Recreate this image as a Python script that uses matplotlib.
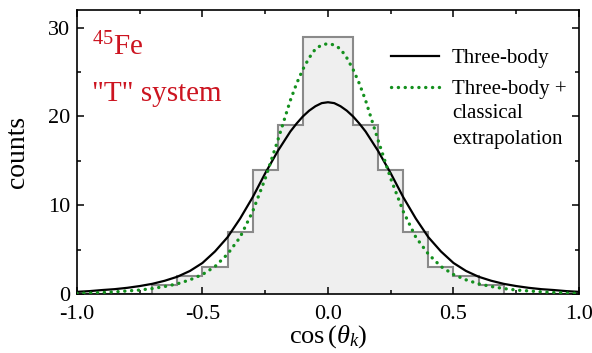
import numpy as np
import matplotlib
matplotlib.use("Agg")
import matplotlib.pyplot as plt
from matplotlib.ticker import MultipleLocator, FormatStrFormatter

plt.rcParams['font.family'] = ['Liberation Serif', 'DejaVu Serif']
plt.rcParams['mathtext.fontset'] = 'custom'
plt.rcParams['mathtext.rm'] = 'Liberation Serif'
plt.rcParams['mathtext.it'] = 'Liberation Serif:italic'
plt.rcParams['axes.unicode_minus'] = False

# histogram (bin width 0.1 from -1 to 1)
bin_edges = np.round(np.arange(-1.0, 1.0001, 0.1), 2)
counts = [0, 0, 0, 1, 2, 3, 7, 14, 19, 29, 29, 19, 14, 7, 3, 2, 1, 0, 0, 0]

# curves at |cos| values (symmetric about 0)
half_x = [0.0, 0.025, 0.05, 0.075, 0.10, 0.125, 0.15, 0.20, 0.25, 0.30, 0.35,
          0.40, 0.45, 0.50, 0.55, 0.60, 0.65, 0.70, 0.75, 0.80, 0.85, 0.90,
          0.95, 1.0]
three_body = [21.6, 21.5, 21.15, 20.65, 20.0, 19.2, 18.3, 16.1, 13.6, 10.9,
              8.5, 6.4, 4.8, 3.5, 2.6, 1.95, 1.5, 1.15, 0.9, 0.7, 0.55, 0.45,
              0.33, 0.25]
three_body_cl = [28.2, 28.05, 27.6, 26.6, 25.3, 23.7, 21.8, 17.3, 13.0, 9.3,
                 6.4, 4.5, 3.1, 2.2, 1.6, 1.15, 0.85, 0.62, 0.45, 0.35, 0.25,
                 0.18, 0.12, 0.08]

x_full = np.concatenate([-np.array(half_x[:0:-1]), half_x])
y_tb = np.concatenate([three_body[:0:-1], three_body])
y_cl = np.concatenate([three_body_cl[:0:-1], three_body_cl])

fig = plt.figure(figsize=(5.92, 3.53), dpi=100)
ax = fig.add_axes([0.130, 0.167, 0.848, 0.805])

ax.stairs(counts, bin_edges, fill=True, color='#efefef', zorder=1)
ax.stairs(counts, bin_edges, color='#8a8a8a', lw=1.5, zorder=2)

ax.plot(x_full, y_tb, color='black', lw=1.6, zorder=3, label='Three-body')
ax.plot(x_full, y_cl, color='#14901e', lw=2.4, ls=(0, (0.05, 2.0)),
        dash_capstyle='round', zorder=4, label='Three-body +')

ax.set_xlim(-1.0, 1.0)
ax.set_ylim(0, 32)
ax.xaxis.set_major_locator(MultipleLocator(0.5))
ax.xaxis.set_minor_locator(MultipleLocator(0.25))
ax.yaxis.set_major_locator(MultipleLocator(10))
ax.yaxis.set_minor_locator(MultipleLocator(5))
ax.xaxis.set_major_formatter(FormatStrFormatter('%.1f'))
ax.tick_params(which='both', direction='in', top=True, right=True, width=1.1)
ax.tick_params(which='major', length=5, labelsize=16)
ax.tick_params(axis='x', which='major', pad=8)
ax.tick_params(axis='y', which='major', pad=5)
ax.tick_params(which='minor', length=3)
for s in ax.spines.values():
    s.set_linewidth(1.2)

ax.set_xlabel(r'cos$\,(\theta_k)$', fontsize=19, labelpad=-1)
ax.set_ylabel('counts', fontsize=20, labelpad=13)

red = '#cc1420'
ax.text(0.03, 0.84, r'$^{45}$Fe', transform=ax.transAxes, color=red, fontsize=21)
ax.text(0.03, 0.68, '"T" system', transform=ax.transAxes, color=red, fontsize=21)

leg = ax.legend(loc='upper left', bbox_to_anchor=(0.608, 0.893), frameon=False,
                fontsize=15, handlelength=2.35, handletextpad=0.6,
                labelspacing=0.55, borderaxespad=0)
ax.text(0.747, 0.59, 'classical\nextrapolation', transform=ax.transAxes,
        fontsize=15, va='center', linespacing=1.5)

fig.savefig('out.png', dpi=100)
